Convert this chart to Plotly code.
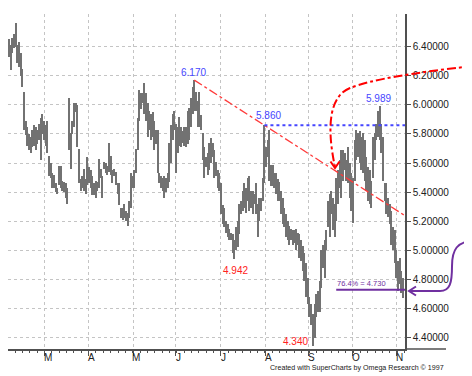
import plotly.graph_objects as go

# ---------------- data ----------------
highs = [
    6.45, 6.41, 6.46, 6.49, 6.56, 6.41, 6.43, 6.36, 6.25, 6.09,
    5.89, 5.85, 5.80, 5.78, 5.83, 5.86, 5.85, 5.83, 5.87, 5.91,
    5.94, 5.89, 5.86, 5.89, 5.65, 5.60, 5.53, 5.52, 5.46, 5.43,
    5.58, 5.58, 5.48, 5.47, 5.46, 5.43, 6.05, 5.81, 5.89, 6.01,
    6.01, 6.00, 5.70, 5.49, 5.51, 5.56, 5.49, 5.64, 5.57, 5.55,
    5.51, 5.46, 5.48, 5.47, 5.63, 5.56, 5.51, 5.61, 5.60, 5.58,
    5.74, 5.65, 5.55, 5.56, 5.54, 5.46, 5.46, 5.29, 5.29, 5.32,
    5.27, 5.26, 5.34, 5.53, 5.51, 5.55, 5.70, 5.91, 6.10, 6.08,
    6.08, 6.15, 6.08, 6.01, 5.96, 5.94, 5.95, 5.89, 5.83, 5.83,
    5.53, 5.51, 5.50, 5.51, 5.50, 5.53, 5.74, 5.86, 5.94, 5.96,
    5.87, 5.85, 5.92, 5.85, 5.82, 5.85, 5.85, 5.96, 5.98, 6.05,
    6.12, 6.170, 6.09, 6.03, 6.09, 5.93, 5.81, 5.71, 5.64, 5.67,
    5.74, 5.77, 5.74, 5.69, 5.61, 5.55, 5.53, 5.46, 5.31, 5.29,
    5.20, 5.18, 5.15, 5.12, 5.11, 5.07, 5.16, 5.20, 5.32, 5.34,
    5.41, 5.46, 5.43, 5.50, 5.51, 5.41, 5.41, 5.39, 5.46, 5.32,
    5.36, 5.36, 5.50, 5.860, 5.71, 5.76, 5.83, 5.59, 5.59, 5.53,
    5.53, 5.49, 5.47, 5.41, 5.36, 5.29, 5.25, 5.20, 5.17, 5.15,
    5.14, 5.14, 5.15, 5.12, 5.11, 5.07, 5.03, 4.98, 4.91, 4.81,
    4.68, 4.63, 4.56, 4.63, 4.70, 4.72, 4.79, 5.00, 5.04, 5.07,
    5.14, 5.34, 5.39, 5.41, 5.36, 5.32, 5.50, 5.55, 5.62, 5.69,
    5.69, 5.67, 5.62, 5.71, 5.60, 5.53, 5.50, 5.76, 5.83, 5.81,
    5.82, 5.78, 5.81, 5.76, 5.64, 5.57, 5.55, 5.48, 5.78, 5.81,
    5.87, 5.96, 5.989, 5.87, 5.78, 5.46, 5.46, 5.36, 5.32, 5.27,
    5.16, 5.14, 5.00, 4.93, 4.95, 4.86, 4.81,
]
lows = [
    6.33, 6.24, 6.36, 6.39, 6.40, 6.29, 6.26, 6.20, 6.12, 5.83,
    5.79, 5.72, 5.69, 5.67, 5.71, 5.72, 5.69, 5.73, 5.76, 5.62,
    5.80, 5.76, 5.72, 5.67, 5.51, 5.50, 5.43, 5.43, 5.40, 5.39,
    5.45, 5.43, 5.41, 5.40, 5.36, 5.32, 5.69, 5.56, 5.80, 5.85,
    5.95, 5.71, 5.46, 5.41, 5.43, 5.41, 5.39, 5.45, 5.46, 5.43,
    5.38, 5.38, 5.36, 5.41, 5.43, 5.50, 5.36, 5.56, 5.53, 5.52,
    5.54, 5.52, 5.46, 5.51, 5.45, 5.39, 5.31, 5.22, 5.21, 5.22,
    5.20, 5.17, 5.22, 5.29, 5.43, 5.43, 5.53, 5.69, 5.89, 5.97,
    6.01, 5.94, 5.89, 5.78, 5.83, 5.76, 5.78, 5.69, 5.73, 5.53,
    5.46, 5.43, 5.41, 5.36, 5.40, 5.43, 5.47, 5.60, 5.76, 5.83,
    5.53, 5.67, 5.72, 5.71, 5.74, 5.72, 5.71, 5.73, 5.76, 5.85,
    5.94, 5.96, 5.96, 5.85, 5.85, 5.83, 5.62, 5.50, 5.57, 5.52,
    5.55, 5.60, 5.64, 5.50, 5.51, 5.43, 5.41, 5.25, 5.18, 5.16,
    5.12, 5.09, 5.07, 5.07, 4.98, 4.942, 5.00, 5.02, 5.11, 5.25,
    5.27, 5.29, 5.26, 5.34, 5.27, 5.29, 5.25, 5.32, 5.25, 5.09,
    5.20, 5.27, 5.34, 5.46, 5.57, 5.64, 5.48, 5.44, 5.44, 5.43,
    5.39, 5.34, 5.34, 5.25, 5.18, 5.16, 5.09, 5.07, 5.04, 5.07,
    5.04, 5.05, 5.00, 5.04, 4.95, 4.93, 4.86, 4.79, 4.68, 4.63,
    4.54, 4.49, 4.340, 4.40, 4.54, 4.58, 4.58, 4.74, 4.88, 4.81,
    5.00, 5.16, 5.09, 5.25, 5.14, 5.09, 5.20, 5.32, 5.43, 5.36,
    5.48, 5.55, 5.48, 5.46, 5.36, 5.27, 5.19, 5.48, 5.62, 5.64,
    5.60, 5.55, 5.53, 5.48, 5.41, 5.34, 5.32, 5.29, 5.50, 5.62,
    5.76, 5.78, 5.76, 5.67, 5.48, 5.34, 5.25, 5.23, 5.18, 5.04,
    5.00, 4.91, 4.81, 4.72, 4.77, 4.71, 4.67,
]
month_start_bar = [21.3, 47.9, 74.3, 99.7, 126.4, 153.6, 179.4, 205.9, 232.2]
month_labels = ["M", "A", "M", "J", "J", "A", "S", "O", "N"]
y_ticks = [4.4, 4.6, 4.8, 5.0, 5.2, 5.4, 5.6, 5.8, 6.0, 6.2, 6.4]
y_tick_labels = ["%.5f" % v for v in y_ticks]

peak1_val, peak2_val, peak3_val = 6.170, 5.860, 5.989
low1_val, low2_val = 4.942, 4.340
fib_level = 4.730
fib_label = "76.4% = 4.730"
fib_start_bar = 196
footer = "Created with SuperCharts by Omega Research © 1997"

# ---------------- figure ----------------
OFF = 8                      # page body margin of the browser
W, H = 472 - OFF, 376 - OFF
ML, MR, MT, MB = 0, 67, 6, 27
PW, PH = W - ML - MR, H - MT - MB
X_RANGE = [-0.6, 237.2]
Y_RANGE = [4.3223, 6.6247]

def P(px, py):
    # page pixel -> paper coordinates
    return (px - OFF - ML) / PW, (MT + PH - (py - OFF)) / PH

def path(cmds):
    out = []
    for c in cmds:
        if isinstance(c, str):
            out.append(c)
        else:
            x, y = P(*c)
            out.append("%.4f,%.4f" % (x, y))
    return " ".join(out)

bars = list(range(len(highs)))
fig = go.Figure(go.Bar(
    x=bars, y=[h - l for h, l in zip(highs, lows)], base=lows,
    width=0.62, marker=dict(color="#727272", line=dict(width=0)),
    hoverinfo="skip"))

p1 = highs.index(peak1_val)
p2 = highs.index(peak2_val, p1 + 1)
p3 = highs.index(peak3_val)
l1 = lows.index(low1_val)
l2 = lows.index(low2_val)
slope = (peak2_val - peak1_val) / (p2 - p1)
trend_end = peak1_val + slope * (X_RANGE[1] - p1)

red = "#ff2020"
blue = "#4646ff"
purple = "#7030a0"
axc = "#505050"
gridc = "#c4c4c4"

shapes = [
    dict(type="line", xref="x", yref="y", x0=p1, y0=peak1_val, x1=X_RANGE[1], y1=trend_end,
         line=dict(color="#ff3a3a", width=1.3, dash="dashdot")),
    dict(type="line", xref="x", yref="y", x0=p2, y0=peak2_val, x1=X_RANGE[1], y1=peak2_val,
         line=dict(color=blue, width=2, dash="dot")),
    dict(type="line", xref="x", yref="y", x0=fib_start_bar, y0=fib_level, x1=X_RANGE[1], y1=fib_level,
         line=dict(color=purple, width=2)),
    # x axis extension past the price scale
    dict(type="line", xref="paper", yref="paper", x0=1, y0=0, x1=P(446, 0)[0], y1=0,
         line=dict(color=axc, width=1.5)),
    # red curved arrow
    dict(type="path", xref="paper", yref="paper",
         path=path(["M", (474, 66), "Q", (380, 76), (350, 88), "C", (330, 96), (326, 125), (335, 167)]),
         line=dict(color="#ff0000", width=2, dash="dashdot")),
    dict(type="path", xref="paper", yref="paper",
         path=path(["M", (330.5, 161.5), "L", (335, 168), "L", (339.5, 161.5)]),
         line=dict(color="#ff0000", width=2)),
    # purple curved arrow
    dict(type="path", xref="paper", yref="paper",
         path=path(["M", (474, 241), "C", (457, 241), (452, 250), (452, 266),
                    "C", (452, 283), (450, 291), (440, 291), "L", (409, 291)]),
         line=dict(color=purple, width=2)),
    dict(type="path", xref="paper", yref="paper",
         path=path(["M", (416, 286.5), "L", (409, 291), "L", (416, 295.5)]),
         line=dict(color=purple, width=2)),
]

fnt = "Liberation Sans, Arial, sans-serif"
annotations = [
    dict(x=p1, y=peak1_val, text="%.3f" % peak1_val, showarrow=False, xanchor="center",
         yanchor="bottom", xshift=-1, yshift=0, font=dict(color=blue, size=10, family=fnt)),
    dict(x=p2, y=peak2_val, text="%.3f" % peak2_val, showarrow=False, xanchor="center",
         yanchor="bottom", xshift=4, yshift=2, font=dict(color=blue, size=10, family=fnt)),
    dict(x=p3, y=peak3_val, text="%.3f" % peak3_val, showarrow=False, xanchor="center",
         yanchor="bottom", xshift=-1, yshift=0, font=dict(color=blue, size=10, family=fnt)),
    dict(x=l1, y=low1_val, text="%.3f" % low1_val, showarrow=False, xanchor="center",
         yanchor="top", xshift=1, yshift=-4, font=dict(color=red, size=10, family=fnt)),
    dict(x=l2, y=low2_val, text="%.3f" % low2_val, showarrow=False, xanchor="right",
         yanchor="bottom", xshift=-3, yshift=-3, font=dict(color=red, size=10, family=fnt)),
    dict(x=fib_start_bar, y=fib_level, text=fib_label, showarrow=False, xanchor="left",
         yanchor="bottom", xshift=-1, yshift=0, font=dict(color=purple, size=7.5, family=fnt)),
    dict(xref="paper", yref="paper", x=P(446, 0)[0], y=P(0, 368)[1], text=footer,
         showarrow=False, xanchor="right", yanchor="middle",
         font=dict(color="#202020", size=7.1, family=fnt)),
]
for mb, ml in zip(month_start_bar, month_labels):
    annotations.append(dict(x=mb, xref="x", yref="paper", y=P(0, 357)[1], text=ml,
                            showarrow=False, xanchor="center", yanchor="middle", xshift=3,
                            font=dict(color="#202020", size=10, family=fnt)))

fig.update_layout(
    width=W, height=H, margin=dict(l=ML, r=MR, t=MT, b=MB, pad=0),
    paper_bgcolor="white", plot_bgcolor="white", showlegend=False,
    bargap=0, shapes=shapes, annotations=annotations,
    font=dict(family=fnt, size=10, color="#202020"),
    xaxis=dict(range=X_RANGE, tickmode="array", tickvals=month_start_bar, showticklabels=False,
               ticks="outside", ticklen=5, tickcolor=axc, tickwidth=1,
               showline=True, linecolor=axc, linewidth=1.5,
               showgrid=True, gridcolor=gridc, griddash="dot", gridwidth=1, zeroline=False,
               minor=dict(tickmode="linear", tick0=month_start_bar[0], dtick=4.4, ticks="outside",
                          ticklen=2, tickcolor=axc, showgrid=False)),
    yaxis=dict(range=Y_RANGE, side="right", tickmode="array", tickvals=y_ticks, ticktext=y_tick_labels,
               ticks="outside", ticklen=4, tickcolor=axc, showline=True, linecolor=axc, linewidth=1.5,
               showgrid=True, gridcolor=gridc, griddash="dot", gridwidth=1, zeroline=False,
               tickfont=dict(size=10, color="#202020")),
)

fig.write_html("out.html")
